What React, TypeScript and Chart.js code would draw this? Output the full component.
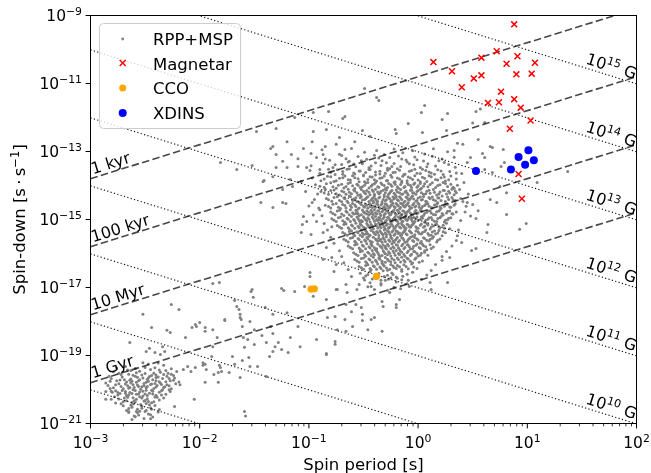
import { useEffect, useRef } from 'react';
import { Chart, registerables } from 'chart.js';

Chart.register(...registerables);

const FONT = '"DejaVu Sans", sans-serif';
const YEAR = 3.156e7;

const X_DECADES = [-3, -2, -1, 0, 1, 2];
const Y_DECADES = [-21, -19, -17, -15, -13, -11, -9];

const AGE_YEARS = [1e3, 1e5, 1e7, 1e9];
const AGE_LABELS = ['1 kyr', '100 kyr', '10 Myr', '1 Gyr'];
const B_EXPONENTS = [8, 9, 10, 11, 12, 13, 14, 15];
const B_LABELED = [10, 11, 12, 13, 14, 15];

// [log10 P, log10 Pdot]
const MAGNETAR = [
  [0.88, -9.26], [0.72, -10.05], [0.58, -10.24], [0.14, -10.37], [0.91, -10.2], [0.81, -10.42],
  [1.07, -10.39], [0.31, -10.64], [0.51, -10.85], [0.58, -10.76], [0.9, -10.73], [1.04, -10.71],
  [0.4, -11.11], [0.76, -11.24], [0.64, -11.57], [0.74, -11.55], [0.88, -11.46], [0.94, -11.71],
  [1.03, -12.09], [0.84, -12.33], [0.92, -13.66], [0.95, -14.39],
];
const XDINS = [[0.53, -13.57], [0.85, -13.53], [0.92, -13.16], [0.98, -13.39], [1.01, -12.96], [1.06, -13.26]];
const CCO = [[-0.98, -17.05], [-0.95, -17.04], [-0.38, -16.67]];

// flat pairs: log10 P x100, log10 Pdot x100
const RPP_MSP = [
  // core
  -88,-1295,-72,-1308,-61,-1291,-49,-1302,-38,-1297,-31,-1309,-22,-1293,-14,-1304,-5,-1298,6,-1307,14,-1292,27,-1301,
  -93,-1318,-81,-1326,-70,-1312,-63,-1329,-55,-1315,-47,-1323,-40,-1311,-33,-1327,-26,-1318,-18,-1313,-11,-1325,-3,-1316,5,-1328,13,-1314,22,-1322,33,-1317,
  -98,-1342,-87,-1334,-78,-1347,-70,-1338,-64,-1331,-57,-1345,-51,-1336,-45,-1348,-39,-1333,-34,-1341,-28,-1349,-22,-1335,-16,-1344,-10,-1331,-4,-1339,2,-1347,9,-1336,16,-1343,24,-1332,34,-1346,
  -99,-1356,-90,-1364,-82,-1352,-76,-1368,-69,-1359,-63,-1351,-58,-1366,-53,-1357,-48,-1362,-44,-1353,-39,-1369,-35,-1358,-30,-1364,-26,-1351,-21,-1361,-17,-1355,-12,-1367,-8,-1358,-3,-1352,2,-1365,7,-1356,12,-1363,18,-1354,23,-1368,29,-1359,35,-1363,
  -97,-1378,-89,-1386,-83,-1373,-77,-1388,-72,-1379,-67,-1372,-62,-1384,-58,-1377,-54,-1389,-50,-1371,-46,-1382,-42,-1375,-38,-1387,-35,-1379,-31,-1372,-28,-1385,-24,-1376,-21,-1389,-17,-1381,-14,-1373,-10,-1386,-7,-1378,-3,-1371,0,-1384,4,-1376,8,-1388,12,-1374,16,-1382,21,-1377,25,-1387,30,-1372,35,-1381,
  -94,-1398,-86,-1405,-80,-1392,-75,-1408,-70,-1396,-66,-1403,-62,-1391,-58,-1409,-55,-1399,-51,-1404,-48,-1393,-45,-1407,-42,-1398,-39,-1391,-36,-1405,-33,-1397,-30,-1409,-27,-1394,-24,-1402,-21,-1396,-18,-1408,-15,-1391,-12,-1403,-9,-1397,-6,-1406,-3,-1393,0,-1401,3,-1408,6,-1395,9,-1404,13,-1392,16,-1406,20,-1398,23,-1391,27,-1403,30,-1396,33,-1408,36,-1399,
  -89,-1418,-82,-1426,-77,-1413,-72,-1428,-68,-1419,-64,-1411,-61,-1424,-58,-1416,-55,-1429,-52,-1412,-49,-1421,-47,-1415,-44,-1427,-41,-1418,-39,-1411,-36,-1424,-34,-1417,-31,-1428,-29,-1413,-26,-1422,-24,-1415,-21,-1427,-19,-1419,-16,-1412,-14,-1425,-11,-1416,-9,-1428,-6,-1414,-4,-1421,-1,-1418,2,-1411,5,-1426,8,-1417,11,-1423,14,-1412,17,-1428,20,-1419,23,-1414,26,-1425,28,-1417,31,-1411,33,-1427,35,-1421,-85,-1411,
  -84,-1438,-79,-1446,-74,-1433,-70,-1448,-67,-1439,-63,-1431,-60,-1444,-57,-1436,-54,-1449,-52,-1432,-49,-1441,-47,-1435,-45,-1447,-42,-1438,-40,-1431,-38,-1444,-36,-1437,-33,-1448,-31,-1433,-29,-1442,-27,-1436,-25,-1447,-22,-1439,-20,-1432,-18,-1445,-16,-1437,-13,-1449,-11,-1434,-9,-1441,-7,-1438,-5,-1431,-2,-1446,0,-1437,3,-1443,5,-1432,8,-1448,11,-1439,13,-1434,16,-1445,19,-1437,22,-1431,25,-1447,28,-1441,31,-1435,34,-1444,-58,-1442,-41,-1446,-23,-1434,
  -85,-1458,-80,-1466,-75,-1453,-71,-1468,-67,-1459,-64,-1451,-61,-1464,-58,-1457,-55,-1469,-53,-1452,-50,-1461,-48,-1455,-46,-1467,-43,-1458,-41,-1451,-39,-1464,-37,-1456,-35,-1468,-33,-1453,-31,-1462,-29,-1455,-27,-1467,-25,-1459,-23,-1452,-21,-1465,-19,-1457,-17,-1469,-15,-1454,-13,-1461,-11,-1458,-9,-1451,-7,-1466,-5,-1457,-3,-1463,0,-1452,3,-1468,6,-1459,9,-1454,12,-1465,15,-1457,18,-1451,21,-1467,24,-1461,27,-1455,30,-1464,33,-1458,-44,-1462,-30,-1467,-16,-1452,1,-1464,
  -80,-1478,-76,-1486,-72,-1473,-68,-1488,-65,-1479,-62,-1471,-59,-1484,-56,-1477,-54,-1489,-51,-1472,-49,-1481,-47,-1475,-45,-1487,-42,-1478,-40,-1471,-38,-1484,-36,-1476,-34,-1488,-32,-1473,-30,-1482,-28,-1475,-26,-1487,-24,-1479,-22,-1472,-20,-1485,-18,-1477,-16,-1489,-14,-1474,-12,-1481,-10,-1478,-8,-1471,-6,-1486,-3,-1477,-1,-1483,2,-1472,5,-1488,8,-1479,11,-1474,14,-1485,17,-1477,20,-1471,23,-1487,26,-1481,29,-1475,32,-1484,35,-1478,-57,-1482,-43,-1483,-25,-1483,-11,-1487,
  -79,-1498,-75,-1506,-71,-1493,-67,-1508,-64,-1499,-61,-1491,-58,-1504,-55,-1497,-53,-1509,-50,-1492,-48,-1501,-46,-1495,-44,-1507,-41,-1498,-39,-1491,-37,-1504,-35,-1496,-33,-1508,-31,-1493,-29,-1502,-27,-1495,-25,-1507,-23,-1499,-21,-1492,-19,-1505,-17,-1497,-15,-1509,-13,-1494,-11,-1501,-9,-1498,-7,-1491,-5,-1506,-2,-1497,0,-1503,3,-1492,6,-1508,9,-1499,12,-1494,15,-1505,18,-1497,21,-1491,24,-1507,27,-1501,30,-1495,-52,-1503,-36,-1501,-20,-1502,-4,-1494,
  -74,-1518,-70,-1526,-66,-1513,-63,-1528,-60,-1519,-57,-1511,-54,-1524,-52,-1517,-49,-1529,-47,-1512,-45,-1521,-43,-1515,-41,-1527,-38,-1518,-36,-1511,-34,-1524,-32,-1516,-30,-1528,-28,-1513,-26,-1522,-24,-1515,-22,-1527,-20,-1519,-18,-1512,-16,-1525,-14,-1517,-12,-1529,-10,-1514,-8,-1521,-6,-1518,-4,-1511,-1,-1526,2,-1517,5,-1523,8,-1512,11,-1528,14,-1519,17,-1514,20,-1525,23,-1517,26,-1511,29,-1527,-42,-1522,-27,-1524,-13,-1522,
  -69,-1538,-65,-1546,-61,-1533,-58,-1548,-55,-1539,-52,-1531,-50,-1544,-47,-1537,-45,-1549,-43,-1532,-40,-1541,-38,-1535,-36,-1547,-34,-1538,-31,-1531,-29,-1544,-27,-1536,-25,-1548,-23,-1533,-21,-1542,-19,-1535,-16,-1547,-14,-1539,-12,-1532,-10,-1545,-7,-1537,-5,-1549,-2,-1534,1,-1541,4,-1538,7,-1531,10,-1546,13,-1537,16,-1543,19,-1532,22,-1548,25,-1539,-48,-1543,-33,-1542,-18,-1541,
  -68,-1558,-64,-1566,-60,-1553,-57,-1568,-54,-1559,-51,-1551,-48,-1564,-46,-1557,-43,-1569,-41,-1552,-38,-1561,-36,-1555,-33,-1567,-31,-1558,-29,-1551,-26,-1564,-24,-1556,-22,-1568,-19,-1553,-17,-1562,-14,-1555,-12,-1567,-9,-1559,-7,-1552,-4,-1565,-1,-1557,2,-1569,5,-1554,8,-1561,11,-1558,14,-1551,17,-1566,20,-1557,-35,-1562,-21,-1561,
  -64,-1578,-60,-1586,-56,-1573,-53,-1588,-50,-1579,-47,-1571,-44,-1584,-42,-1577,-39,-1589,-37,-1572,-34,-1581,-32,-1575,-29,-1587,-27,-1578,-24,-1571,-22,-1584,-19,-1576,-17,-1588,-14,-1573,-12,-1582,-9,-1575,-7,-1587,-4,-1579,-1,-1572,2,-1585,5,-1577,8,-1589,11,-1574,14,-1581,-30,-1583,
  -59,-1598,-55,-1606,-51,-1593,-48,-1608,-45,-1599,-42,-1591,-40,-1604,-37,-1597,-35,-1609,-32,-1592,-30,-1601,-27,-1595,-25,-1607,-22,-1598,-20,-1591,-17,-1604,-15,-1596,-12,-1608,-9,-1593,-6,-1602,-3,-1595,0,-1607,3,-1599,6,-1592,9,-1605,
  -58,-1618,-54,-1626,-50,-1613,-47,-1628,-44,-1619,-41,-1611,-38,-1624,-35,-1617,-33,-1629,-30,-1612,-27,-1621,-24,-1615,-21,-1627,-18,-1618,-15,-1611,-12,-1624,-9,-1616,-5,-1628,-2,-1613,4,-1622,
  -54,-1638,-50,-1646,-46,-1633,-43,-1648,-40,-1639,-37,-1631,-34,-1644,-31,-1637,-28,-1649,-25,-1632,-22,-1641,-19,-1635,-15,-1647,-11,-1638,-6,-1631,-1,-1644,
  -53,-1658,-48,-1666,-44,-1653,-40,-1668,-36,-1659,-32,-1651,-28,-1664,-24,-1657,-20,-1669,-15,-1652,-10,-1661,-5,-1655,
  -49,-1678,-44,-1686,-39,-1673,-34,-1688,-30,-1679,-25,-1671,-20,-1684,-15,-1677,-10,-1689,
  -46,-1698,-40,-1706,-34,-1693,-28,-1708,-22,-1699,-16,-1704,
  // core, second layer
  -85,-1322,-76,-1339,-66,-1321,-59,-1337,-52,-1327,-43,-1343,-36,-1319,-29,-1333,-24,-1344,-15,-1322,-8,-1336,-1,-1324,8,-1345,19,-1327,28,-1338,
  -80,-1361,-74,-1354,-69,-1367,-65,-1352,-59,-1363,-54,-1357,-50,-1369,-45,-1353,-39,-1360,-35,-1366,-28,-1355,-23,-1362,-19,-1351,-13,-1368,-6,-1356,-1,-1364,4,-1352,10,-1360,15,-1367,21,-1357,
  -86,-1381,-80,-1374,-75,-1386,-69,-1377,-64,-1383,-60,-1371,-55,-1380,-49,-1389,-44,-1374,-40,-1383,-33,-1377,-29,-1386,-25,-1370,-19,-1378,-15,-1387,-9,-1375,-5,-1382,2,-1389,6,-1379,10,-1371,18,-1384,24,-1375,28,-1383,
  -90,-1402,-84,-1395,-78,-1404,-73,-1399,-68,-1407,-64,-1394,-60,-1401,-56,-1396,-53,-1406,-49,-1399,-46,-1391,-43,-1402,-40,-1395,-37,-1404,-34,-1393,-31,-1400,-28,-1406,-25,-1398,-22,-1391,-19,-1404,-16,-1397,-13,-1406,-10,-1393,-7,-1400,-4,-1396,-1,-1405,2,-1394,5,-1402,11,-1397,18,-1400,25,-1394,32,-1405,
  -86,-1422,-80,-1415,-75,-1424,-70,-1416,-66,-1426,-63,-1420,-59,-1413,-56,-1421,-53,-1427,-50,-1417,-48,-1424,-45,-1420,-42,-1413,-40,-1426,-37,-1419,-35,-1423,-32,-1414,-30,-1421,-27,-1426,-25,-1418,-22,-1423,-20,-1413,-17,-1421,-15,-1426,-12,-1419,-10,-1423,-7,-1414,-5,-1422,-2,-1426,0,-1415,3,-1421,7,-1424,10,-1414,15,-1420,19,-1425,24,-1415,29,-1422,34,-1416,
  -82,-1442,-77,-1435,-72,-1444,-68,-1437,-65,-1446,-62,-1433,-59,-1440,-56,-1447,-53,-1436,-51,-1443,-48,-1439,-46,-1433,-43,-1443,-41,-1436,-39,-1440,-37,-1447,-35,-1434,-32,-1441,-30,-1445,-28,-1432,-26,-1439,-24,-1444,-21,-1436,-19,-1442,-17,-1433,-15,-1441,-12,-1446,-10,-1436,-8,-1443,-6,-1434,-4,-1440,-1,-1444,2,-1434,4,-1441,7,-1446,10,-1435,14,-1442,18,-1436,21,-1444,27,-1434,32,-1442,
  -82,-1462,-78,-1455,-73,-1464,-69,-1456,-66,-1466,-62,-1459,-60,-1453,-57,-1462,-54,-1466,-52,-1456,-49,-1464,-47,-1458,-44,-1454,-42,-1465,-40,-1460,-38,-1453,-36,-1463,-34,-1457,-32,-1466,-30,-1454,-28,-1460,-26,-1464,-24,-1456,-22,-1462,-20,-1453,-18,-1460,-16,-1465,-14,-1456,-12,-1463,-10,-1455,-8,-1461,-6,-1466,-4,-1453,-2,-1460,1,-1456,4,-1462,7,-1455,10,-1461,13,-1466,17,-1455,20,-1462,25,-1456,29,-1463,34,-1454,
  -78,-1482,-74,-1475,-70,-1484,-66,-1476,-63,-1486,-60,-1480,-57,-1473,-55,-1483,-52,-1486,-50,-1477,-47,-1484,-45,-1479,-43,-1473,-41,-1485,-39,-1480,-37,-1474,-35,-1483,-33,-1477,-31,-1486,-29,-1474,-27,-1480,-25,-1485,-23,-1476,-21,-1482,-19,-1473,-17,-1480,-15,-1485,-13,-1476,-11,-1483,-9,-1475,-7,-1481,-5,-1486,-2,-1473,0,-1480,3,-1476,6,-1482,9,-1475,12,-1481,16,-1486,19,-1475,22,-1482,27,-1476,31,-1483,
  -77,-1502,-73,-1495,-69,-1504,-65,-1496,-62,-1506,-59,-1500,-56,-1493,-54,-1503,-51,-1506,-49,-1497,-47,-1504,-45,-1499,-42,-1493,-40,-1505,-38,-1500,-36,-1494,-34,-1503,-32,-1497,-30,-1506,-28,-1494,-26,-1500,-24,-1505,-22,-1496,-20,-1502,-18,-1493,-16,-1500,-14,-1505,-12,-1496,-10,-1503,-8,-1495,-6,-1501,-3,-1506,-1,-1493,2,-1500,4,-1496,7,-1502,10,-1495,13,-1501,17,-1506,20,-1495,25,-1502,28,-1496,
  -72,-1522,-68,-1515,-64,-1524,-61,-1516,-58,-1526,-55,-1520,-53,-1513,-50,-1523,-48,-1526,-46,-1517,-44,-1524,-42,-1519,-39,-1513,-37,-1525,-35,-1520,-33,-1514,-31,-1523,-29,-1517,-27,-1526,-25,-1514,-23,-1520,-21,-1525,-19,-1516,-17,-1522,-15,-1513,-13,-1520,-11,-1525,-9,-1516,-7,-1523,-5,-1515,-2,-1521,0,-1526,3,-1513,6,-1520,9,-1516,12,-1522,16,-1515,19,-1521,24,-1526,
  -67,-1542,-63,-1535,-59,-1544,-56,-1536,-53,-1546,-51,-1540,-48,-1533,-46,-1543,-44,-1546,-41,-1537,-39,-1544,-37,-1539,-35,-1533,-32,-1545,-30,-1540,-28,-1534,-26,-1543,-24,-1537,-22,-1546,-20,-1534,-17,-1540,-15,-1545,-13,-1536,-11,-1542,-8,-1533,-6,-1540,-3,-1545,0,-1536,3,-1543,6,-1535,9,-1541,12,-1546,15,-1534,18,-1540,23,-1536,
  -66,-1562,-62,-1555,-58,-1564,-55,-1556,-52,-1566,-49,-1560,-47,-1553,-44,-1563,-42,-1566,-39,-1557,-37,-1564,-34,-1559,-32,-1553,-30,-1565,-27,-1560,-25,-1554,-23,-1563,-20,-1557,-18,-1566,-15,-1554,-13,-1560,-10,-1565,-8,-1556,-5,-1562,-3,-1553,0,-1560,3,-1565,6,-1556,10,-1563,13,-1555,18,-1561,
  -62,-1582,-58,-1575,-54,-1584,-51,-1576,-48,-1586,-45,-1580,-43,-1573,-40,-1583,-38,-1586,-35,-1577,-33,-1584,-30,-1579,-28,-1573,-25,-1585,-23,-1580,-20,-1574,-18,-1583,-15,-1577,-13,-1586,-10,-1574,-8,-1580,-5,-1585,-2,-1576,1,-1582,4,-1573,7,-1580,12,-1585,
  -57,-1602,-53,-1595,-49,-1604,-46,-1596,-43,-1606,-41,-1600,-38,-1593,-36,-1603,-33,-1606,-31,-1597,-28,-1604,-26,-1599,-23,-1593,-21,-1605,-18,-1600,-16,-1594,-13,-1603,-10,-1597,-7,-1606,-4,-1594,-1,-1600,2,-1605,6,-1596,
  -56,-1622,-52,-1615,-48,-1624,-45,-1616,-42,-1626,-39,-1620,-36,-1613,-33,-1623,-30,-1626,-28,-1617,-25,-1624,-22,-1619,-19,-1613,-16,-1625,-13,-1620,-10,-1614,-7,-1623,-3,-1617,1,-1626,
  -52,-1642,-48,-1635,-44,-1644,-41,-1636,-38,-1646,-35,-1640,-32,-1633,-29,-1643,-26,-1646,-23,-1637,-20,-1644,-17,-1639,-13,-1633,-9,-1645,-4,-1640,
  -50,-1672,-46,-1662,-42,-1675,-38,-1665,-34,-1679,-31,-1668,-27,-1676,-23,-1662,-19,-1673,-14,-1667,-9,-1679,
  // core fringe
  38,-1412,41,-1447,43,-1478,39,-1503,37,-1531,42,-1391,40,-1365,36,-1548,46,-1425,44,-1461,39,-1438,48,-1490,
  35,-1562,31,-1578,26,-1594,22,-1620,16,-1632,12,-1650,8,-1663,3,-1676,
  -92,-1425,-95,-1441,-91,-1466,-88,-1489,-86,-1512,-83,-1531,-80,-1552,-77,-1570,-72,-1592,-70,-1609,-68,-1627,
  -64,-1647,-61,-1668,-103,-1418,-100,-1460,-96,-1487,
  // upper sparse
  3,-1185,6,-1165,27,-1188,22,-1206,-9,-1218,-21,-1235,-38,-1141,-36,-1150,4,-1244,53,-1182,26,-1238,-49,-1115,
  -82,-1182,-69,-1203,-96,-1241,-130,-1232,-148,-1241,-84,-1235,-72,-1259,-51,-1238,-58,-1271,-44,-1256,-67,-1197,57,-1175,
  -20,-1247,61,-1215,50,-1216,36,-1276,33,-1297,55,-1265,61,-1318,45,-1332,48,-1318,41,-1279,-113,-1200,-96,-1185,
  // upper-left
  -135,-1291,-130,-1309,-120,-1271,-116,-1309,-124,-1329,-110,-1321,-105,-1291,-97,-1271,-98,-1306,-120,-1347,-130,-1347,
  -110,-1344,-133,-1374,-141,-1385,-117,-1382,-107,-1388,-115,-1403,-124,-1412,-102,-1347,-90,-1353,-87,-1309,-85,-1285,
  -75,-1279,-67,-1294,-166,-1353,-152,-1341,-142,-1388,-181,-1332,-133,-1285,
  // right sparse
  66,-1285,68,-1288,59,-1306,137,-1359,109,-1391,99,-1512,93,-1529,75,-1403,68,-1362,61,-1353,81,-1421,76,-1344,
  78,-1294,79,-1332,81,-1485,64,-1515,63,-1538,53,-1497,55,-1474,49,-1591,53,-1585,40,-1568,27,-1685,29,-1612,
  22,-1609,72,-1450,66,-1441,50,-1456,45,-1450,
  // below core
  -32,-1756,-17,-1735,-20,-1750,11,-1685,12,-1706,-8,-1697,-26,-1715,-33,-1741,-33,-1829,-46,-1824,-60,-1815,-74,-1824,
  -76,-1859,-84,-1897,-20,-1759,-40,-1788,-52,-1759,-61,-1771,-51,-1797,-43,-1794,-51,-1779,
  // left of core
  -144,-1450,-133,-1465,-124,-1450,-121,-1453,-105,-1491,-102,-1506,-106,-1515,-107,-1538,-98,-1544,-87,-1538,-90,-1471,
  -97,-1450,-93,-1506,-79,-1521,-84,-1582,-87,-1618,-79,-1612,-75,-1632,-77,-1653,-99,-1656,-104,-1697,-96,-1726,
  -75,-1706,-66,-1691,-65,-1715,-56,-1706,-54,-1691,-43,-1697,-125,-1703,-123,-1709,-113,-1712,-152,-1706,-151,-1729,
  -66,-1750,-57,-1750,-99,-1668,-84,-1735,-74,-1706,
  // intermediate
  -188,-1688,-168,-1738,-166,-1756,-140,-1759,-163,-1779,-162,-1794,-177,-1797,-154,-1800,-133,-1779,-120,-1774,
  -110,-1815,-135,-1815,-150,-1824,-143,-1841,-139,-1862,-160,-1847,-156,-1853,-195,-1818,-188,-1824,-184,-1847,
  -133,-1835,-125,-1882,-131,-1874,-150,-1868,-159,-1876,-155,-1906,-161,-1915,-154,-1932,-147,-1932,-136,-1903,
  -133,-1888,-119,-1891,-108,-1874,-128,-1862,-117,-1847,-170,-1903,-182,-1929,-189,-1903,-195,-1926,-197,-1929,
  -183,-1950,-187,-1956,-173,-1950,-163,-1965,-139,-1962,-183,-1979,-195,-1979,-83,-1788,-93,-1853,-84,-1894,
  -67,-1794,-76,-1785,-66,-1829,-76,-1867,
  // MSP surroundings
  -264,-1862,-246,-1879,-249,-1888,-241,-1891,-234,-1874,-232,-1888,-236,-1897,-227,-1832,-252,-1779,-226,-1750,
  -219,-1765,-204,-1809,-203,-1815,-213,-1847,-195,-1829,-177,-1794,-188,-1874,-197,-1921,-204,-1935,-211,-1932,
  -215,-1941,-208,-1947,-194,-1941,-181,-1935,-180,-1947,-168,-1926,-205,-2029,-223,-2050,-245,-2074,-250,-2065,
  -257,-2068,-259,-2080,-245,-2086,-265,-2065,-159,-2065,-158,-2078,-281,-2029,-275,-2009,-286,-2006,-244,-1818,
  -230,-1826,-207,-1818,-200,-1803,-182,-1685,-164,-1765,-163,-1788,-161,-1815,-153,-1712,
  // MSP cluster
  -268,-1932,-259,-1938,-247,-1925,-241,-1936,-233,-1929,-226,-1939,-252,-1921,-238,-1922,
  -279,-1948,-272,-1956,-266,-1943,-261,-1958,-255,-1946,-250,-1953,-245,-1941,-240,-1957,-236,-1949,-231,-1944,-226,-1955,-221,-1947,-258,-1951,-244,-1959,
  -281,-1968,-276,-1974,-271,-1963,-267,-1978,-263,-1969,-259,-1961,-256,-1974,-252,-1966,-249,-1979,-246,-1962,-243,-1971,-240,-1965,-237,-1977,-234,-1968,-230,-1961,-227,-1974,-223,-1966,-219,-1978,-262,-1976,-248,-1970,
  -284,-1988,-279,-1995,-274,-1983,-270,-1998,-266,-1989,-263,-1981,-260,-1994,-257,-1987,-254,-1999,-251,-1982,-248,-1991,-245,-1985,-242,-1997,-239,-1988,-236,-1981,-233,-1994,-230,-1986,-226,-1998,-222,-1983,-265,-1996,-253,-1992,-241,-1982,
  -280,-2008,-275,-2016,-271,-2003,-267,-2018,-264,-2009,-261,-2001,-258,-2014,-255,-2007,-252,-2019,-249,-2002,-246,-2011,-243,-2005,-240,-2017,-237,-2008,-234,-2001,-231,-2014,-227,-2006,-262,-2012,-250,-2013,-268,-2011,
  -274,-2028,-270,-2036,-266,-2023,-262,-2038,-258,-2029,-255,-2021,-251,-2034,-248,-2027,-244,-2039,-241,-2022,-237,-2031,-233,-2025,-260,-2033,-247,-2035,
  -270,-2048,-265,-2056,-261,-2043,-257,-2058,-253,-2049,-249,-2041,-245,-2054,-241,-2047,-237,-2059,
  -265,-2068,-260,-2078,-255,-2064,-251,-2085,-247,-2072,-243,-2081,-238,-2066,
  -286,-2029,-281,-2005,-277,-2040,
  // MSP cluster, second layer
  -276,-1937,-263,-1944,-250,-1935,-237,-1943,-229,-1952,
  -283,-1961,-274,-1952,-269,-1971,-265,-1955,-257,-1964,-253,-1957,-247,-1966,-242,-1952,-238,-1963,-233,-1956,-228,-1968,-224,-1959,
  -286,-1981,-282,-1976,-277,-1986,-273,-1972,-268,-1984,-264,-1973,-261,-1986,-258,-1979,-255,-1971,-251,-1989,-247,-1976,-244,-1984,-240,-1974,-235,-1985,-231,-1977,-228,-1989,-224,-1973,-218,-1986,
  -282,-1997,-277,-2004,-272,-1991,-268,-2006,-264,-1994,-259,-2003,-256,-1991,-252,-2005,-249,-1995,-244,-2002,-240,-1993,-235,-2004,-232,-1992,-228,-2001,
  -278,-2021,-273,-2012,-269,-2025,-265,-2016,-261,-2024,-256,-2013,-253,-2025,-248,-2018,-243,-2013,-239,-2023,-235,-2016,
  -272,-2042,-267,-2033,-263,-2046,-259,-2037,-254,-2044,-250,-2032,-246,-2045,-242,-2036,
  -267,-2062,-262,-2052,-258,-2065,-253,-2055,-249,-2062,-244,-2058,-262,-2088,-256,-2075,
];

const pairsToPts = (arr: number[][]) => arr.map(([a, b]) => ({ x: 10 ** a, y: 10 ** b }));
const rppPoints = () => {
  const pts: { x: number; y: number }[] = [];
  for (let i = 0; i + 1 < RPP_MSP.length; i += 2) pts.push({ x: 10 ** (RPP_MSP[i] / 100), y: 10 ** (RPP_MSP[i + 1] / 100) });
  return pts;
};

const ageLine = (yr: number) => (P: number) => P / (2 * yr * YEAR);
const bLine = (e: number) => (P: number) => (10 ** e / 3.2e19) ** 2 / P;

type Part = { t: string; sup?: boolean };
function drawMath(ctx: CanvasRenderingContext2D, parts: Part[], x: number, y: number, align: string, fs: number) {
  const sfs = fs * 0.7;
  const widths = parts.map((p) => {
    ctx.font = `${p.sup ? sfs : fs}px ${FONT}`;
    return ctx.measureText(p.t).width;
  });
  const total = widths.reduce((s, w) => s + w, 0);
  let cx = align === 'left' ? x : align === 'right' ? x - total : x - total / 2;
  ctx.textAlign = 'left';
  ctx.textBaseline = 'alphabetic';
  parts.forEach((p, i) => {
    ctx.font = `${p.sup ? sfs : fs}px ${FONT}`;
    ctx.fillText(p.t, cx, p.sup ? y - fs * 0.38 : y);
    cx += widths[i];
  });
}
const expStr = (e: number) => (e < 0 ? '\u2212' + Math.abs(e) : String(e));

const decoPlugin = {
  id: 'ppdeco',
  afterDatasetsDraw(chart: any) {
    const { ctx, chartArea: a, scales } = chart;
    const xs = scales.x;
    const ys = scales.y;
    ctx.save();
    ctx.fillStyle = '#000';
    AGE_YEARS.forEach((yr, i) => {
      const f = ageLine(yr);
      const x1 = xs.getPixelForValue(1e-3), y1 = ys.getPixelForValue(f(1e-3));
      const x2 = xs.getPixelForValue(1e2), y2 = ys.getPixelForValue(f(1e2));
      const ang = Math.atan2(y2 - y1, x2 - x1);
      const px = a.left + 3.5;
      const py = ys.getPixelForValue(f(xs.getValueForPixel(px)));
      ctx.save();
      ctx.translate(px, py);
      ctx.rotate(ang);
      ctx.font = `16px ${FONT}`;
      ctx.textAlign = 'left';
      ctx.textBaseline = 'alphabetic';
      ctx.fillText(AGE_LABELS[i], 0, -3.5);
      ctx.restore();
    });
    B_LABELED.forEach((e) => {
      const f = bLine(e);
      const x1 = xs.getPixelForValue(1e-3), y1 = ys.getPixelForValue(f(1e-3));
      const x2 = xs.getPixelForValue(1e2), y2 = ys.getPixelForValue(f(1e2));
      const ang = Math.atan2(y2 - y1, x2 - x1);
      const P = 10 ** 1.745;
      const px = xs.getPixelForValue(P);
      const py = ys.getPixelForValue(f(P));
      ctx.save();
      ctx.translate(px, py);
      ctx.rotate(ang);
      drawMath(ctx, [{ t: '10' }, { t: String(e), sup: true }, { t: ' G' }], 0, -4, 'center', 16);
      ctx.restore();
    });
    // legend
    const lx = 99.5, ly = 23.5, lw = 141, lh = 105, r = 4;
    ctx.beginPath();
    ctx.moveTo(lx + r, ly);
    ctx.arcTo(lx + lw, ly, lx + lw, ly + lh, r);
    ctx.arcTo(lx + lw, ly + lh, lx, ly + lh, r);
    ctx.arcTo(lx, ly + lh, lx, ly, r);
    ctx.arcTo(lx, ly, lx + lw, ly, r);
    ctx.closePath();
    ctx.fillStyle = 'rgba(255,255,255,0.8)';
    ctx.fill();
    ctx.strokeStyle = '#cccccc';
    ctx.lineWidth = 1;
    ctx.stroke();
    const mx = 122.7;
    ctx.fillStyle = 'gray';
    ctx.beginPath(); ctx.arc(mx, 39, 1.4, 0, Math.PI * 2); ctx.fill();
    ctx.strokeStyle = 'red';
    ctx.lineWidth = 1.5;
    ctx.beginPath();
    ctx.moveTo(mx - 3, 63 - 3); ctx.lineTo(mx + 3, 63 + 3);
    ctx.moveTo(mx - 3, 63 + 3); ctx.lineTo(mx + 3, 63 - 3);
    ctx.stroke();
    ctx.fillStyle = 'orange';
    ctx.beginPath(); ctx.arc(mx, 88, 3.5, 0, Math.PI * 2); ctx.fill();
    ctx.fillStyle = 'blue';
    ctx.beginPath(); ctx.arc(mx, 113, 4, 0, Math.PI * 2); ctx.fill();
    ctx.fillStyle = '#000';
    ctx.font = `16.5px ${FONT}`;
    ctx.textAlign = 'left';
    ctx.textBaseline = 'alphabetic';
    ['RPP+MSP', 'Magnetar', 'CCO', 'XDINS'].forEach((t, i) => ctx.fillText(t, 153, 45 + i * 24.7));
    ctx.restore();
  },
  afterDraw(chart: any) {
    const { ctx, chartArea: a, scales } = chart;
    const xs = scales.x;
    const ys = scales.y;
    ctx.save();
    ctx.strokeStyle = '#000';
    ctx.lineWidth = 1;
    ctx.strokeRect(a.left, a.top, a.right - a.left, a.bottom - a.top);
    ctx.beginPath();
    X_DECADES.forEach((e) => {
      const px = xs.getPixelForValue(10 ** e);
      ctx.moveTo(px, a.bottom); ctx.lineTo(px, a.bottom + 4.9);
    });
    Y_DECADES.forEach((e) => {
      const py = ys.getPixelForValue(10 ** e);
      ctx.moveTo(a.left, py); ctx.lineTo(a.left - 4.9, py);
    });
    ctx.stroke();
    ctx.lineWidth = 0.8;
    ctx.beginPath();
    for (let e = -3; e < 2; e++) {
      for (let m = 2; m <= 9; m++) {
        const px = xs.getPixelForValue(m * 10 ** e);
        ctx.moveTo(px, a.bottom); ctx.lineTo(px, a.bottom + 2.8);
      }
    }
    ctx.stroke();
    ctx.fillStyle = '#000';
    X_DECADES.forEach((e) => {
      drawMath(ctx, [{ t: '10' }, { t: expStr(e), sup: true }], xs.getPixelForValue(10 ** e), 448.3, 'center', 15.5);
    });
    Y_DECADES.forEach((e) => {
      drawMath(ctx, [{ t: '10' }, { t: expStr(e), sup: true }], a.left - 8.5, ys.getPixelForValue(10 ** e) + 5.6, 'right', 15.5);
    });
    ctx.font = `16.5px ${FONT}`;
    ctx.textAlign = 'center';
    ctx.fillText('Spin period [s]', (a.left + a.right) / 2, 469.5);
    ctx.translate(25, (a.top + a.bottom) / 2);
    ctx.rotate(-Math.PI / 2);
    drawMath(ctx, [{ t: 'Spin-down [s\u2009\u00b7\u2009s' }, { t: '\u22121', sup: true }, { t: ']' }], 0, 0, 'center', 16.5);
    ctx.restore();
  },
};

export default function App() {
  const ref = useRef<HTMLCanvasElement>(null);
  useEffect(() => {
    if (!ref.current) return;
    const lineSets: any[] = [];
    AGE_YEARS.forEach((yr) => {
      const f = ageLine(yr);
      lineSets.push({
        data: [{ x: 1e-3, y: f(1e-3) }, { x: 1e2, y: f(1e2) }],
        showLine: true, pointRadius: 0, borderColor: 'rgba(0,0,0,0.72)', borderWidth: 1.6,
        borderDash: [7.5, 3.3], fill: false, order: 1,
      });
    });
    B_EXPONENTS.forEach((e) => {
      const f = bLine(e);
      lineSets.push({
        data: [{ x: 1e-3, y: f(1e-3) }, { x: 1e2, y: f(1e2) }],
        showLine: true, pointRadius: 0, borderColor: '#111', borderWidth: 1.15,
        borderDash: [1.2, 2.3], fill: false, order: 1,
      });
    });
    const chart = new Chart(ref.current, {
      type: 'scatter',
      data: {
        datasets: [
          { label: 'RPP+MSP', data: rppPoints(), pointRadius: 1.5, backgroundColor: 'gray', borderWidth: 0, order: 2 },
          ...lineSets,
          { label: 'CCO', data: pairsToPts(CCO), pointRadius: 3.6, backgroundColor: 'orange', borderWidth: 0, order: 0 },
          { label: 'Magnetar', data: pairsToPts(MAGNETAR), pointStyle: 'crossRot', pointRadius: 4.2, borderColor: 'red', borderWidth: 1.5, order: 0 },
          { label: 'XDINS', data: pairsToPts(XDINS), pointRadius: 4, backgroundColor: 'blue', borderWidth: 0, order: 0 },
        ],
      },
      options: {
        responsive: false,
        animation: false,
        events: [],
        layout: { padding: { top: 15.5, right: 14.5, left: 0, bottom: 0 } },
        plugins: { legend: { display: false }, tooltip: { enabled: false } },
        scales: {
          x: {
            type: 'logarithmic', min: 1e-3, max: 1e2,
            afterBuildTicks: (s: any) => { s.ticks = X_DECADES.map((e) => ({ value: 10 ** e })); },
            afterFit: (s: any) => { s.height = 49.5; },
            ticks: { display: false }, grid: { display: false }, border: { display: false },
          },
          y: {
            type: 'logarithmic', min: 1e-21, max: 1e-9,
            afterBuildTicks: (s: any) => { s.ticks = Y_DECADES.map((e) => ({ value: 10 ** e })); },
            afterFit: (s: any) => { s.width = 90.5; },
            ticks: { display: false }, grid: { display: false }, border: { display: false },
          },
        },
      } as any,
      plugins: [decoPlugin],
    });
    return () => chart.destroy();
  }, []);
  return (
    <div style={{ position: 'absolute', left: 0, top: 0, width: 651, height: 473, background: '#fff' }}>
      <canvas ref={ref} width={651} height={473} style={{ display: 'block' }} />
    </div>
  );
}
